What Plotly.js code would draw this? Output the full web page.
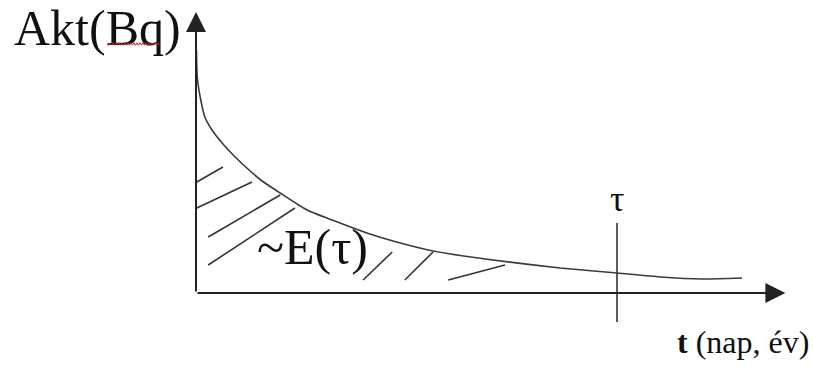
<!DOCTYPE html>
<html>
<head>
<meta charset="utf-8">
<script src="https://cdn.plot.ly/plotly-3.0.1.min.js"></script>
<style>
  html, body { margin: 0; padding: 0; background: #fff; }
  #graph { width: 813px; height: 367px; }
</style>
</head>
<body>
<div id="graph"></div>
<script>
// decay curve (t in arbitrary units, tau = 10)
const tValues = [0.01, 0.03, 0.10, 0.21, 0.38, 0.62, 0.93, 1.26, 1.57, 2.00, 2.64, 3.42, 4.13, 4.68, 5.63, 7.05, 8.65, 10.0, 11.02, 12.04, 12.97];
const aktValues = [9.72, 8.64, 7.84, 7.04, 6.52, 6.00, 5.44, 4.92, 4.48, 4.00, 3.32, 2.80, 2.36, 2.08, 1.68, 1.32, 1.00, 0.80, 0.64, 0.56, 0.60];

// hatch strokes under the curve: start / end points
const hatchT0 = [0.02, 0.02, 0.29, 0.29, 3.97, 4.96, 5.99];
const hatchA0 = [4.44, 3.40, 2.24, 1.12, 0.52, 0.52, 0.52];
const hatchT1 = [0.64, 1.33, 2.00, 2.35, 4.66, 5.63, 7.34];
const hatchA1 = [5.04, 4.44, 3.92, 3.40, 1.64, 1.64, 1.12];

const tau = 10;
const tauLineA = [-1.16, 2.8];
const axisEnd = { t: 14.0, a: 11.24 };

// linear map used for the layout: origin at pixel (196, 293)
const pxPerT = 42.1, pxPerA = 25;
const xRange = [-196 / pxPerT, (813 - 196) / pxPerT];
const yRange = [-(367 - 293) / pxPerA, 293 / pxPerA];

const lineCol = '#333';
const serifFam = 'Liberation Serif';

const traces = [];

// hatching
hatchT0.forEach((t0, i) => {
    traces.push({
        x: [t0, hatchT1[i]],
        y: [hatchA0[i], hatchA1[i]],
        mode: 'lines',
        type: 'scatter',
        line: { color: lineCol, width: 1.6 },
        hoverinfo: 'skip',
        showlegend: false,
    });
});

// activity curve
traces.push({
    x: tValues,
    y: aktValues,
    mode: 'lines',
    type: 'scatter',
    line: { color: '#3a3a3a', width: 1.6, shape: 'spline', smoothing: 0.6 },
    showlegend: false,
});

// tau marker line
traces.push({
    x: [tau, tau],
    y: tauLineA,
    mode: 'lines',
    type: 'scatter',
    line: { color: lineCol, width: 1.6 },
    showlegend: false,
});

// red spell-check squiggle under "Bq"
const sqX0 = 107, sqX1 = 160, sqY = 44;
let sq = `M${sqX0},${sqY}`;
for (let x = sqX0 + 1.5, k = 0; x <= sqX1; x += 1.5, k++) {
    sq += ` L${x},${sqY + (k % 2 === 0 ? 1.2 : -1.2)}`;
}

const arrow = (x, y) => ({
    x: x, y: y, ax: 0, ay: 0,
    xref: 'x', yref: 'y', axref: 'x', ayref: 'y',
    text: '', showarrow: true,
    arrowhead: 2, arrowsize: 2, arrowwidth: 2, arrowcolor: '#222',
});

const layout = {
    width: 813,
    height: 367,
    margin: { l: 0, r: 0, t: 0, b: 0 },
    paper_bgcolor: '#fff',
    plot_bgcolor: '#fff',
    showlegend: false,
    xaxis: { range: xRange, visible: false, fixedrange: true },
    yaxis: { range: yRange, visible: false, fixedrange: true },
    annotations: [
        arrow(axisEnd.t, 0),
        arrow(0, axisEnd.a),
        {
            x: -4.37, y: 10.60, xref: 'x', yref: 'y', xanchor: 'left',
            text: 'Akt(Bq)', showarrow: false,
            font: { family: serifFam, size: 50, color: '#111' },
        },
        {
            x: tau, y: 3.75, xref: 'x', yref: 'y', xanchor: 'center',
            text: 'τ', showarrow: false,
            font: { family: serifFam, size: 36, color: '#111' },
        },
        {
            x: 1.40, y: 1.85, xref: 'x', yref: 'y', xanchor: 'left',
            text: '~E(τ)', showarrow: false,
            font: { family: serifFam, size: 50, color: '#111' },
        },
        {
            x: 11.38, y: -1.95, xref: 'x', yref: 'y', xanchor: 'left',
            text: '<b>t</b> (nap, év)', showarrow: false,
            font: { family: serifFam, size: 32, color: '#111' },
        },
    ],
};

const el = document.getElementById('graph');
Plotly.newPlot(el, traces, layout, { displayModeBar: false, staticPlot: true }).then(() => {
    // spell-check squiggle, drawn in pixel space on the top svg layer
    const svgs = el.querySelectorAll('svg.main-svg');
    const svg = svgs[svgs.length - 1];
    const p = document.createElementNS('http://www.w3.org/2000/svg', 'path');
    p.setAttribute('d', sq);
    p.setAttribute('stroke', '#c0282d');
    p.setAttribute('stroke-width', '1');
    p.setAttribute('fill', 'none');
    svg.appendChild(p);
}).catch((error) => {
    console.error('Error plotting the graph:', error);
});
</script>
</body>
</html>
